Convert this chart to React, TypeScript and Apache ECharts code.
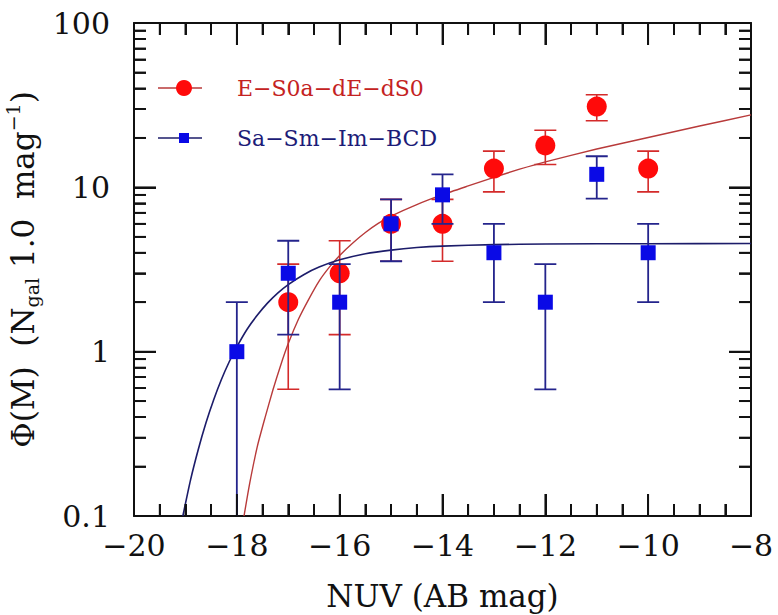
import React, { useEffect, useRef } from 'react';
import * as echarts from 'echarts';

// Data points (NUV absolute magnitude, Phi) with Poisson errors
const redMag = [-17, -16, -15, -14, -13, -12, -11, -10];
const redPhi = [2, 3, 6, 6, 13, 18, 31, 13];
const redErr = [1.41, 1.73, 2.45, 2.45, 3.61, 4.24, 5.57, 3.61];

const blueMag = [-18, -17, -16, -15, -14, -13, -12, -11, -10];
const bluePhi = [1, 3, 2, 6, 9, 4, 2, 12, 4];
const blueErr = [1.0, 1.73, 1.41, 2.45, 3.0, 2.0, 1.41, 3.46, 2.0];

// Fitted curves
const redFitMag = [-17.86, -17.75, -17.6, -17.45, -17.3, -17.15, -17.0, -16.8, -16.6, -16.4, -16.2, -16.0, -15.75, -15.5, -15.25, -15.0, -14.5, -14.0, -13.5, -13.0, -12.5, -12.0, -11.0, -10.0, -9.0, -8.0];
const redFitPhi = [0.1, 0.158, 0.266, 0.398, 0.582, 0.822, 1.12, 1.58, 2.09, 2.69, 3.27, 3.85, 4.57, 5.31, 6.03, 6.68, 7.85, 9.02, 10.2, 11.5, 12.9, 14.3, 17.1, 20.1, 23.6, 27.6];

const blueFitMag = [-19.05, -18.9, -18.75, -18.6, -18.45, -18.3, -18.15, -18.0, -17.8, -17.6, -17.4, -17.2, -17.0, -16.7, -16.4, -16.0, -15.5, -15.0, -14.5, -14.0, -13.0, -12.0, -10.0, -8.0];
const blueFitPhi = [0.1, 0.166, 0.254, 0.369, 0.51, 0.677, 0.865, 1.07, 1.37, 1.67, 1.98, 2.28, 2.56, 2.94, 3.27, 3.62, 3.94, 4.15, 4.3, 4.39, 4.48, 4.52, 4.54, 4.55];

// Axis ranges and ticks
const xMin = -20;
const xMax = -8;
const xInterval = 2;
const xTickVals = [-19.5, -19, -18.5, -18, -17.5, -17, -16.5, -16, -15.5, -15, -14.5, -14, -13.5, -13, -12.5, -12, -11.5, -11, -10.5, -10, -9.5, -9, -8.5];
const yMin = 0.1;
const yMax = 100;
const yMajorTicks = [1, 10];
const yMinorTicks = [0.2, 0.3, 0.4, 0.5, 0.6, 0.7, 0.8, 0.9, 2, 3, 4, 5, 6, 7, 8, 9, 20, 30, 40, 50, 60, 70, 80, 90];

const redLabel = 'E\u2212S0a\u2212dE\u2212dS0';
const blueLabel = 'Sa\u2212Sm\u2212Im\u2212BCD';

const FONT = 'DejaVu Serif';
const AXIS_COLOR = '#111111';
const TICK_W = 1.8;
const RED_MARK = '#ff0a0a';
const RED_ERR = '#d42a2a';
const RED_FIT = '#b83a3a';
const BLUE_MARK = '#0a0ae6';
const BLUE_ERR = '#24248c';
const BLUE_FIT = '#1c1c6a';
const MAJOR_LEN = 22;
const MINOR_LEN = 12;

function fmtX(v: number) {
  return (v < 0 ? '\u2212' : '') + Math.abs(v);
}

function isMajorX(v: number) {
  return Math.abs(v / xInterval - Math.round(v / xInterval)) < 1e-6;
}

// error bar drawn as one polyline: top cap, vertical bar, bottom cap
function errorSeries(mag: number[], phi: number[], err: number[], color: string, width: number, z: number) {
  return {
    type: 'custom',
    z,
    clip: true,
    encode: { x: 0, y: 1 },
    data: mag.map((m, i) => [m, phi[i], err[i]]),
    renderItem: (params: any, api: any) => {
      const x = api.value(0);
      const y = api.value(1);
      const e = api.value(2);
      let lo = y - e;
      const clamped = lo <= yMin;
      if (clamped) lo = yMin;
      const a = api.coord([x, y + e]);
      const b = api.coord([x, lo]);
      const h = 11;
      const points = clamped
        ? [[a[0] - h, a[1]], [a[0] + h, a[1]], [a[0], a[1]], [b[0], b[1]]]
        : [[a[0] - h, a[1]], [a[0] + h, a[1]], [a[0], a[1]], [b[0], b[1]], [b[0] - h, b[1]], [b[0] + h, b[1]]];
      return { type: 'polyline', shape: { points }, style: { stroke: color, lineWidth: width, fill: 'none' } };
    },
  };
}

// one tick line per data item, placed through the axes' scales
function tickSeries(side: string, items: number[][]) {
  return {
    type: 'custom',
    z: 10,
    clip: false,
    encode: { x: 0, y: 1 },
    data: items,
    renderItem: (params: any, api: any) => {
      const p = api.coord([api.value(0), api.value(1)]);
      const len = api.value(2);
      let shape;
      if (side === 'left') shape = { x1: p[0], y1: p[1], x2: p[0] + len, y2: p[1] };
      else if (side === 'right') shape = { x1: p[0], y1: p[1], x2: p[0] - len, y2: p[1] };
      else if (side === 'bottom') shape = { x1: p[0], y1: p[1], x2: p[0], y2: p[1] - len };
      else shape = { x1: p[0], y1: p[1], x2: p[0], y2: p[1] + len };
      return { type: 'line', shape, style: { stroke: AXIS_COLOR, lineWidth: TICK_W } };
    },
  };
}

export default function App() {
  const ref = useRef<HTMLDivElement>(null);

  useEffect(() => {
    if (!ref.current) return;
    const chart = echarts.init(ref.current, undefined, { renderer: 'svg' });

    const makeX = (position: string) => ({
      type: 'value',
      min: xMin,
      max: xMax,
      interval: xInterval,
      position,
      axisLine: { show: true, onZero: false, lineStyle: { color: AXIS_COLOR, width: 2 } },
      axisTick: { show: true, inside: true, length: MAJOR_LEN, lineStyle: { color: AXIS_COLOR, width: TICK_W } },
      minorTick: { show: true, splitNumber: 4, length: MINOR_LEN, lineStyle: { color: AXIS_COLOR, width: TICK_W } },
      splitLine: { show: false },
    });

    const makeY = (position: string) => ({
      type: 'log',
      logBase: 10,
      min: yMin,
      max: yMax,
      position,
      axisLine: { show: true, onZero: false, lineStyle: { color: AXIS_COLOR, width: 2 } },
      axisTick: { show: true, inside: true, length: MAJOR_LEN, lineStyle: { color: AXIS_COLOR, width: TICK_W } },
      splitLine: { show: false },
    });

    const yTickItems = (x: number) => [
      ...yMajorTicks.map((v) => [x, v, MAJOR_LEN]),
      ...yMinorTicks.map((v) => [x, v, MINOR_LEN]),
    ];
    const xTickItems = (y: number) => xTickVals.map((v) => [v, y, isMajorX(v) ? MAJOR_LEN : MINOR_LEN]);

    // tick marks as markLine segments in data coordinates (tick length converted to data units)
    const dxMajor = (MAJOR_LEN / 617) * (xMax - xMin);
    const dxMinor = (MINOR_LEN / 617) * (xMax - xMin);
    const fyMajor = Math.pow(10, MAJOR_LEN / 164.3);
    const fyMinor = Math.pow(10, MINOR_LEN / 164.3);
    const markSegs: any[] = [];
    yMajorTicks.forEach((v) => {
      markSegs.push([{ coord: [xMin, v] }, { coord: [xMin + dxMajor, v] }]);
      markSegs.push([{ coord: [xMax, v] }, { coord: [xMax - dxMajor, v] }]);
    });
    yMinorTicks.forEach((v) => {
      markSegs.push([{ coord: [xMin, v] }, { coord: [xMin + dxMinor, v] }]);
      markSegs.push([{ coord: [xMax, v] }, { coord: [xMax - dxMinor, v] }]);
    });
    xTickVals.forEach((v) => {
      const f = isMajorX(v) ? fyMajor : fyMinor;
      markSegs.push([{ coord: [v, yMin] }, { coord: [v, yMin * f] }]);
      markSegs.push([{ coord: [v, yMax] }, { coord: [v, yMax / f] }]);
    });

    const legendGraphics: any[] = [
      { type: 'line', shape: { x1: 158, y1: 88, x2: 202, y2: 88 }, style: { stroke: RED_FIT, lineWidth: 1.5 } },
      { type: 'circle', shape: { cx: 184, cy: 88, r: 8 }, style: { fill: RED_MARK } },
      {
        type: 'text',
        x: 237,
        y: 88,
        style: { text: redLabel, fontFamily: FONT, fontSize: 22, fill: '#c42222', verticalAlign: 'middle', align: 'left' },
      },
      { type: 'line', shape: { x1: 158, y1: 138, x2: 202, y2: 138 }, style: { stroke: BLUE_FIT, lineWidth: 1.5 } },
      { type: 'polygon', shape: { points: [[179, 133], [189, 133], [189, 143], [179, 143]] }, style: { fill: BLUE_MARK } },
      {
        type: 'text',
        x: 237,
        y: 138,
        style: { text: blueLabel, fontFamily: FONT, fontSize: 22, fill: '#1c1c78', verticalAlign: 'middle', align: 'left' },
      },
    ];

    const option: any = {
      animation: false,
      backgroundColor: '#ffffff',
      grid: { left: 134, right: 27, top: 23, bottom: 99, outerBoundsMode: 'none' },
      xAxis: [
        {
          ...makeX('bottom'),
          axisLabel: {
            show: true,
            formatter: fmtX,
            fontFamily: FONT,
            fontSize: 30,
            color: '#111',
            margin: 14,
            showMinLabel: true,
            showMaxLabel: true,
          },
          name: 'NUV (AB mag)',
          nameLocation: 'middle',
          nameGap: 64,
          nameTextStyle: { fontFamily: FONT, fontSize: 31, color: '#111' },
        },
        {
          ...makeX('top'),
          axisLabel: { show: false },
        },
      ],
      yAxis: [
        {
          ...makeY('left'),
          axisLabel: {
            show: true,
            fontFamily: FONT,
            fontSize: 30,
            color: '#111',
            margin: 24,
            showMinLabel: true,
            showMaxLabel: true,
          },
          name: '{m|\u03A6(M)  (N}{s|gal}{m| 1.0  mag}{p|\u22121}{m|)}',
          nameLocation: 'middle',
          nameRotate: 90,
          nameGap: 86,
          nameTextStyle: {
            fontFamily: FONT,
            color: '#111',
            rich: {
              m: { fontFamily: FONT, fontSize: 31, lineHeight: 38, verticalAlign: 'middle', color: '#111' },
              s: { fontFamily: FONT, fontSize: 19, lineHeight: 19, verticalAlign: 'bottom', color: '#111' },
              p: { fontFamily: FONT, fontSize: 19, lineHeight: 19, verticalAlign: 'top', color: '#111' },
            },
          },
        },
        {
          ...makeY('right'),
          axisLabel: { show: false },
        },
      ],
      series: [
        {
          name: redLabel,
          type: 'line',
          showSymbol: false,
          symbol: 'none',
          smooth: 0.2,
          lineStyle: { color: RED_FIT, width: 1.4 },
          data: redFitMag.map((m, i) => [m, redFitPhi[i]]),
          markLine: {
            silent: true,
            symbol: ['none', 'none'],
            label: { show: false },
            lineStyle: { color: AXIS_COLOR, width: TICK_W, type: 'solid', opacity: 1 },
            emphasis: { disabled: true },
            data: markSegs,
          },
        },
        {
          name: blueLabel,
          type: 'line',
          showSymbol: false,
          symbol: 'none',
          smooth: 0.2,
          lineStyle: { color: BLUE_FIT, width: 1.6 },
          data: blueFitMag.map((m, i) => [m, blueFitPhi[i]]),
        },
        errorSeries(redMag, redPhi, redErr, RED_ERR, 1.6, 3),
        {
          type: 'scatter',
          z: 4,
          symbol: 'circle',
          symbolSize: 20,
          itemStyle: { color: RED_MARK, opacity: 1 },
          data: redMag.map((m, i) => [m, redPhi[i]]),
        },
        errorSeries(blueMag, bluePhi, blueErr, BLUE_ERR, 1.8, 5),
        {
          type: 'scatter',
          z: 6,
          symbol: 'rect',
          symbolSize: 15,
          itemStyle: { color: BLUE_MARK, opacity: 1 },
          data: blueMag.map((m, i) => [m, bluePhi[i]]),
        },
        tickSeries('left', yTickItems(xMin)),
        tickSeries('right', yTickItems(xMax)),
        tickSeries('bottom', xTickItems(yMin)),
        tickSeries('top', xTickItems(yMax)),
      ],
      graphic: legendGraphics,
    };

    chart.setOption(option);

    return () => chart.dispose();
  }, []);

  return (
    <div
      ref={ref}
      style={{ position: 'fixed', left: 0, top: 0, width: 778, height: 615, background: '#fff' }}
    />
  );
}
